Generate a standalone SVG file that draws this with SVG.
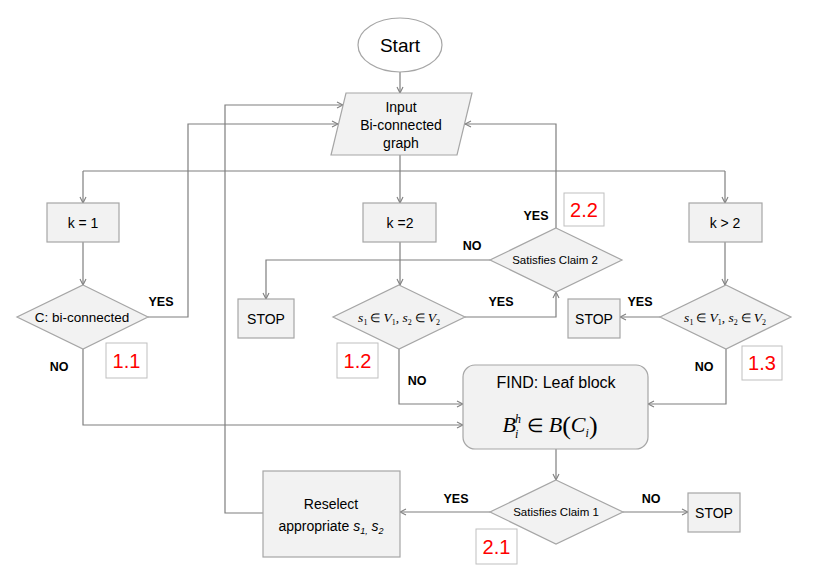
<svg xmlns="http://www.w3.org/2000/svg" width="817" height="577" viewBox="0 0 817 577">
<style>
.box{fill:#f2f2f2;stroke:#a6a6a6;stroke-width:1.2}
.lbl{fill:#fff;stroke:#bfbfbf;stroke-width:1}
.t{font-family:"Liberation Sans",Arial,sans-serif;fill:#000;text-anchor:middle}
.yn{font-family:"Liberation Sans",Arial,sans-serif;font-weight:bold;font-size:12.5px;fill:#000;text-anchor:middle}
.red{font-family:"Liberation Sans",Arial,sans-serif;font-size:20px;fill:#ff0000;text-anchor:middle}
.m{font-family:"Liberation Serif","Times New Roman",serif;font-style:italic;fill:#000;text-anchor:middle}
.c{fill:none;stroke:#7f7f7f;stroke-width:1.2}
</style>
<defs>
<marker id="ah" markerWidth="8" markerHeight="8" refX="7" refY="4" orient="auto" markerUnits="userSpaceOnUse">
<path d="M1,1 L7,4 L1,7" fill="none" stroke="#7f7f7f" stroke-width="1.1"/>
</marker>
</defs>

<g id="connectors">
<path class="c" d="M400,72 V93" marker-end="url(#ah)"/>
<path class="c" d="M400,155 V203" marker-end="url(#ah)"/>
<path class="c" d="M83,171 H725"/>
<path class="c" d="M83,171 V203" marker-end="url(#ah)"/>
<path class="c" d="M725,171 V203" marker-end="url(#ah)"/>
<path class="c" d="M83,242 V285" marker-end="url(#ah)"/>
<path class="c" d="M148,317 H188 V124 H338" marker-end="url(#ah)"/>
<path class="c" d="M83,349 V425 H463" marker-end="url(#ah)"/>
<path class="c" d="M400,242 V285" marker-end="url(#ah)"/>
<path class="c" d="M399,349 V404 H463" marker-end="url(#ah)"/>
<path class="c" d="M465,317 H556 V292" marker-end="url(#ah)"/>
<path class="c" d="M490,260 H266 V299" marker-end="url(#ah)"/>
<path class="c" d="M556,228 V124 H465" marker-end="url(#ah)"/>
<path class="c" d="M725,242 V285" marker-end="url(#ah)"/>
<path class="c" d="M660,317 H620" marker-end="url(#ah)"/>
<path class="c" d="M726,349 V404 H648" marker-end="url(#ah)"/>
<path class="c" d="M556,449 V480" marker-end="url(#ah)"/>
<path class="c" d="M490,512 H400" marker-end="url(#ah)"/>
<path class="c" d="M623,512 H688" marker-end="url(#ah)"/>
<path class="c" d="M263,513 H225 V105 H343" marker-end="url(#ah)"/>
</g>

<g id="start">
<ellipse cx="400" cy="45" rx="42" ry="27" fill="#fff" stroke="#a6a6a6" stroke-width="1.2"/>
<text class="t" x="400" y="52" font-size="19">Start</text>
</g>

<g id="input">
<polygon class="box" points="346,93 472,93 457,155 331,155"/>
<text class="t" x="401" y="112" font-size="14">Input</text>
<text class="t" x="401" y="130" font-size="14">Bi-connected</text>
<text class="t" x="401" y="148" font-size="14">graph</text>
</g>

<g id="k1">
<rect class="box" x="47" y="203" width="72" height="39"/>
<text class="t" x="83" y="228" font-size="14">k = 1</text>
</g>
<g id="k2">
<rect class="box" x="363" y="203" width="73" height="39"/>
<text class="t" x="400" y="228" font-size="14">k =2</text>
</g>
<g id="k3">
<rect class="box" x="689" y="203" width="73" height="39"/>
<text class="t" x="725" y="228" font-size="14">k &gt; 2</text>
</g>

<g id="d1">
<polygon class="box" points="83,285 148,317 83,349 17,317"/>
<text class="t" x="82" y="322" font-size="13.5">C: bi-connected</text>
</g>
<g id="d2">
<polygon class="box" points="399,285 465,317 399,349 333,317"/>
<text class="m" x="399" y="322" font-size="13.5">s<tspan font-size="8" font-style="normal" dy="3">1</tspan><tspan dy="-3" font-style="normal" font-size="12"> ∈ </tspan>V<tspan font-size="8" font-style="normal" dy="3">1</tspan><tspan dy="-3" font-style="normal">, </tspan>s<tspan font-size="8" font-style="normal" dy="3">2</tspan><tspan dy="-3" font-style="normal" font-size="12"> ∈ </tspan>V<tspan font-size="8" font-style="normal" dy="3">2</tspan></text>
</g>
<g id="claim2">
<polygon class="box" points="556,228 622,260 556,292 490,260"/>
<text class="t" x="555" y="264" font-size="11.5">Satisfies Claim 2</text>
</g>
<g id="d3">
<polygon class="box" points="726,285 791,317 726,349 660,317"/>
<text class="m" x="725" y="322" font-size="13.5">s<tspan font-size="8" font-style="normal" dy="3">1</tspan><tspan dy="-3" font-style="normal" font-size="12"> ∈ </tspan>V<tspan font-size="8" font-style="normal" dy="3">1</tspan><tspan dy="-3" font-style="normal">, </tspan>s<tspan font-size="8" font-style="normal" dy="3">2</tspan><tspan dy="-3" font-style="normal" font-size="12"> ∈ </tspan>V<tspan font-size="8" font-style="normal" dy="3">2</tspan></text>
</g>

<g id="stop1">
<rect class="box" x="238" y="299" width="56" height="39"/>
<text class="t" x="266" y="324" font-size="14">STOP</text>
</g>
<g id="stop2">
<rect class="box" x="568" y="299" width="52" height="39"/>
<text class="t" x="594" y="324" font-size="14">STOP</text>
</g>

<g id="find">
<rect class="box" x="463" y="365" width="185" height="84" rx="12" ry="12"/>
<text class="t" x="556" y="388" font-size="16">FIND: Leaf block</text>
<text class="m" x="550" y="432" font-size="22">B<tspan font-size="12" dx="-1" dy="-9">h</tspan><tspan font-size="12" dx="-6" dy="15">i</tspan><tspan font-style="normal" font-size="19" dx="4" dy="-6"> ∈ </tspan>B<tspan font-style="normal" font-size="26" dy="2">(</tspan><tspan dy="-2">C</tspan><tspan font-size="12" dy="5">i</tspan><tspan font-style="normal" font-size="26" dy="-3">)</tspan></text>
</g>

<g id="claim1">
<polygon class="box" points="556,480 623,512 556,544 490,512"/>
<text class="t" x="556" y="516" font-size="11.5">Satisfies Claim 1</text>
</g>
<g id="stop3">
<rect class="box" x="688" y="493" width="52" height="39"/>
<text class="t" x="714" y="518" font-size="14">STOP</text>
</g>
<g id="reselect">
<rect class="box" x="263" y="471" width="137" height="86"/>
<text class="t" x="331" y="509" font-size="14">Reselect</text>
<text class="t" x="331" y="531" font-size="14">appropriate <tspan font-style="italic">s<tspan font-size="9" dy="3">1,</tspan></tspan><tspan dy="-3"> </tspan><tspan font-style="italic">s<tspan font-size="9" dy="3">2</tspan></tspan></text>
</g>

<g id="labels">
<text class="yn" x="161" y="306">YES</text>
<text class="yn" x="59" y="371">NO</text>
<text class="yn" x="501" y="306">YES</text>
<text class="yn" x="472" y="250">NO</text>
<text class="yn" x="536" y="220">YES</text>
<text class="yn" x="417" y="385">NO</text>
<text class="yn" x="640" y="306">YES</text>
<text class="yn" x="704" y="371">NO</text>
<text class="yn" x="456" y="503">YES</text>
<text class="yn" x="651" y="503">NO</text>
</g>

<g id="steps">
<rect class="lbl" x="106" y="343" width="41" height="35"/>
<text class="red" x="126.5" y="368">1.1</text>
<rect class="lbl" x="337" y="343" width="41" height="35"/>
<text class="red" x="357.5" y="368">1.2</text>
<rect class="lbl" x="742" y="346" width="40" height="34"/>
<text class="red" x="762" y="370">1.3</text>
<rect class="lbl" x="564" y="193" width="40" height="33"/>
<text class="red" x="584" y="217">2.2</text>
<rect class="lbl" x="476" y="529" width="41" height="35"/>
<text class="red" x="496.5" y="554">2.1</text>
</g>
</svg>
